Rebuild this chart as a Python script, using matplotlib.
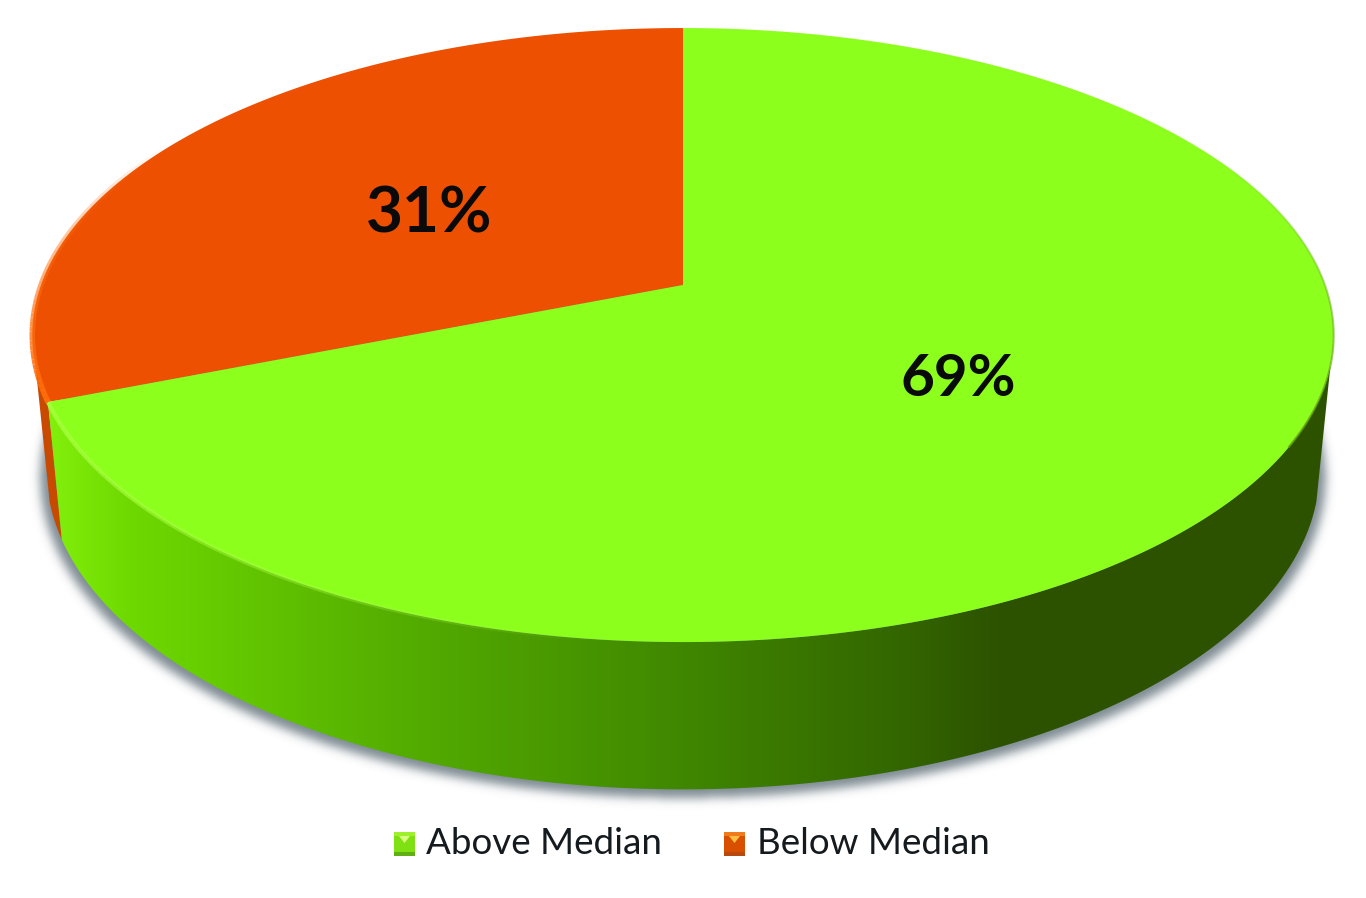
import numpy as np
import matplotlib
matplotlib.use('Agg')
import matplotlib.pyplot as plt
from matplotlib.patches import Polygon
from matplotlib.path import Path

categories = ['Above Median', 'Below Median']
shares = [69, 31]
pct_labels = ['69%', '31%']

W, H = 1366, 898
CX = 683
PERSP = 0.163   # how much the far side of the pie shrinks


def project(theta, a, A, B):
    # theta is degrees counterclockwise from the top of the pie
    t = np.radians(theta)
    u, v = -np.sin(t), np.cos(t)
    den = 1 + PERSP * v
    return CX + a * u / den, (A * v + B) / den


def top_edge(theta):
    return project(theta, 642, -252.4, 285)


def low_edge(theta):
    return project(theta, 628, -242.7, 418)


def side_color(x):
    xs = [40, 130, 400, 683, 900, 1000, 1366]
    r = [0.52, 0.43, 0.33, 0.25, 0.20, 0.176, 0.176]
    g = [0.95, 0.85, 0.68, 0.53, 0.40, 0.322, 0.322]
    b = [0.05, 0.0, 0.0, 0.0, 0.0, 0.0, 0.0]
    return np.stack([np.interp(x, xs, r), np.interp(x, xs, g), np.interp(x, xs, b)], axis=-1)


def faded_rim(ax, th0, th1, color, lw, a0, a1):
    # rim line on the top edge, alpha runs from a0 to a1
    th = np.linspace(th0, th1, 61)
    x, y = top_edge(th)
    alphas = np.linspace(a0, a1, 60)
    for i in range(60):
        ax.plot(x[i:i + 2], y[i:i + 2], color=color, lw=lw, alpha=alphas[i], zorder=5,
                solid_capstyle='butt')


def blurred_shadow():
    # mask of the lower outline, blurred along both axes
    sx, sy = project(np.linspace(0, 360, 400), 634, -242.7, 425)
    gx, gy = np.meshgrid(np.arange(W) + 0.5, np.arange(H) + 0.5)
    mask = Path(np.c_[sx, sy]).contains_points(np.c_[gx.ravel(), gy.ravel()]).reshape(H, W).astype(float)
    kx = np.arange(-15, 16)
    kernel = np.exp(-kx ** 2 / (2 * 5.0 ** 2))
    kernel /= kernel.sum()
    mask = np.apply_along_axis(lambda r: np.convolve(r, kernel, mode='same'), 0, mask)
    mask = np.apply_along_axis(lambda r: np.convolve(r, kernel, mode='same'), 1, mask)
    rgba = np.zeros((H, W, 4))
    rgba[..., :3] = (0.44, 0.50, 0.53)
    rgba[..., 3] = mask * 0.9
    return rgba


fig = plt.figure(figsize=(W / 100, H / 100), dpi=100)
ax = fig.add_axes([0, 0, 1, 1])
ax.axis('off')

below_deg = shares[1] / sum(shares) * 360

# soft shadow below the pie
ax.imshow(blurred_shadow(), extent=[0, W, H, 0], aspect='auto', zorder=1)

# orange side sliver
th = np.linspace(105, below_deg, 20)
xt, yt = top_edge(th)
xl, yl = low_edge(th)
ax.add_patch(Polygon(np.r_[np.c_[xt, yt], np.c_[xl, yl][::-1]], fc='#c84a00', ec='none', zorder=2))

# green side, gradient clipped to the wall outline
th = np.linspace(below_deg, 255, 300)
xt, yt = top_edge(th)
xl, yl = low_edge(th)
wall = Polygon(np.r_[np.c_[xt, yt], np.c_[xl, yl][::-1]], fc='none', ec='none', transform=ax.transData)
ax.add_patch(wall)
grad = side_color(np.linspace(0, W, W))[None, :, :]
im = ax.imshow(grad, extent=[0, W, H, 0], aspect='auto', zorder=3)
im.set_clip_path(wall)

# top surface
th = np.linspace(0, below_deg, 200)
x, y = top_edge(th)
ax.add_patch(Polygon(np.c_[np.r_[CX, x], np.r_[285, y]], fc='#ec5000', ec='none', zorder=4))
th = np.linspace(below_deg, 360, 500)
x, y = top_edge(th)
ax.add_patch(Polygon(np.c_[np.r_[CX, x], np.r_[285, y]], fc='#8cff1c', ec='none', zorder=4))

# lighter and darker rims on the top edge
faded_rim(ax, below_deg, 175, '#a6ff3c', 3, 0.9, 0.0)
faded_rim(ax, 60, below_deg, '#ff6c0c', 4, 0.0, 1.0)
faded_rim(ax, 240, 300, '#5f9a10', 1.5, 0.8, 0.0)

ax.text(958, 380, pct_labels[0], family='Lato', weight='bold', fontsize=42, color='#0a0a0a',
        ha='center', va='center', zorder=6)
ax.text(429, 214, pct_labels[1], family='Lato', weight='bold', fontsize=46, color='#0a0a0a',
        ha='center', va='center', zorder=6)

# legend with small bevelled markers
legend_x = [394, 724]
label_x = [426, 757]
top_cols = ['#9cf02c', '#f07a1c']
mid_cols = ['#7fe012', '#d94f00']
low_cols = ['#5fb010', '#b84a10']
tri_cols = ['#d8ff80', '#ffc040']
for i, name in enumerate(categories):
    mx = legend_x[i]
    ax.add_patch(plt.Rectangle((mx, 832), 21, 24, fc=mid_cols[i], ec='none', zorder=6))
    ax.add_patch(plt.Rectangle((mx, 832), 21, 4, fc=top_cols[i], ec='none', zorder=7))
    ax.add_patch(plt.Rectangle((mx, 852), 21, 4, fc=low_cols[i], ec='none', zorder=7))
    ax.add_patch(Polygon([(mx + 5, 836), (mx + 16, 836), (mx + 10.5, 843)], fc=tri_cols[i], ec='none', zorder=7))
    ax.text(label_x[i], 844, name, family='Lato', fontsize=26.5, color='#141a1e', va='center', ha='left', zorder=6)

ax.set_xlim(0, W)
ax.set_ylim(H, 0)
fig.savefig('out.png', dpi=100, facecolor='white')
